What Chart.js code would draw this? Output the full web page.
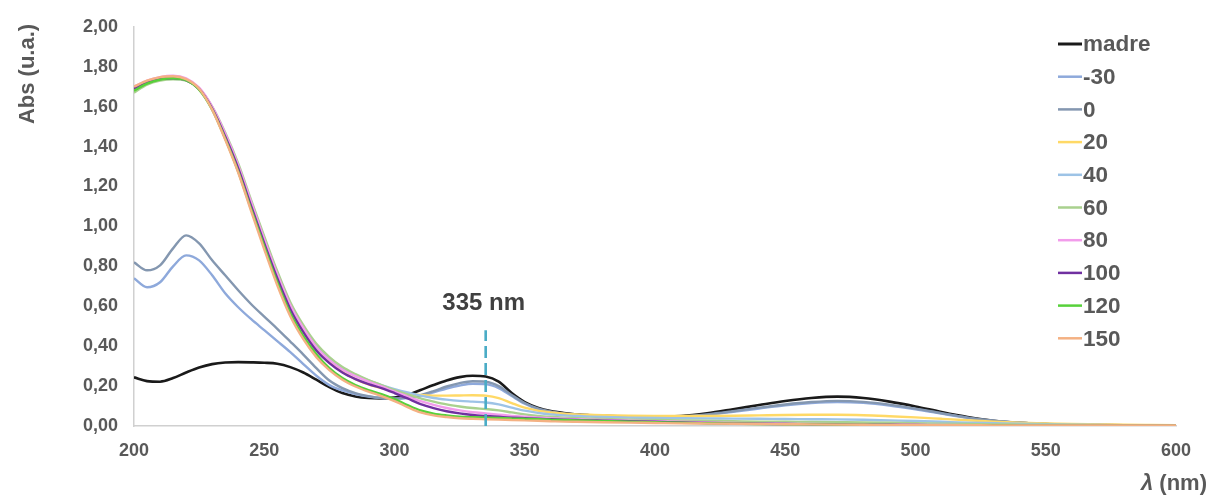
<!DOCTYPE html>
<html>
<head>
<meta charset="utf-8">
<script src="https://cdn.jsdelivr.net/npm/chart.js@4.4.0/dist/chart.umd.min.js"></script>
<style>
  html, body { margin: 0; padding: 0; background: #ffffff; }
  #wrap { width: 1215px; height: 498px; }
</style>
</head>
<body>
<div id="wrap"><canvas id="c" width="1215" height="498"></canvas></div>
<script>
// Wavelength grid (nm)
const wavelengths = [
  200,205,210,215,220,225,230,235,240,245,
  250,255,260,265,270,275,280,285,290,295,
  300,305,310,315,320,325,330,335,340,345,
  350,355,360,365,370,375,380,390,400,410,
  420,430,440,450,460,470,480,490,500,510,
  520,530,540,550,560,570,580,590,600
];

// Absorbance spectra (u.a.)
const absMadre = [
  .244,.225,.222,.24,.268,.293,.31,.318,.32,.319,
  .317,.312,.295,.268,.232,.195,.165,.148,.14,.138,
  .142,.155,.18,.205,.228,.245,.252,.248,.222,.165,
  .12,.092,.075,.065,.058,.054,.051,.047,.046,.05,
  .064,.084,.105,.125,.14,.147,.14,.122,.098,.07,
  .045,.026,.016,.01,.007,.005,.003,.002,.001
];
const absM30 = [
  .74,.695,.72,.8,.855,.83,.755,.665,.595,.535,
  .48,.425,.37,.31,.252,.205,.178,.16,.148,.14,
  .137,.14,.15,.168,.188,.203,.212,.21,.19,.15,
  .112,.085,.07,.06,.055,.051,.049,.045,.044,.047,
  .056,.071,.088,.104,.115,.12,.116,.103,.084,.062,
  .041,.025,.015,.01,.007,.005,.003,.002,.001
];
const abs0 = [
  .82,.78,.805,.89,.955,.915,.83,.755,.68,.61,
  .548,.487,.423,.358,.29,.228,.19,.165,.15,.14,
  .137,.142,.155,.175,.198,.215,.224,.222,.2,.155,
  .115,.088,.072,.062,.056,.052,.05,.046,.045,.048,
  .058,.074,.092,.108,.12,.126,.121,.107,.087,.064,
  .042,.026,.016,.01,.007,.005,.003,.002,.001
];
const abs20 = [
  1.69,1.725,1.742,1.747,1.737,1.69,1.59,1.45,1.29,1.1,
  .92,.745,.59,.475,.385,.32,.27,.235,.208,.19,
  .175,.162,.155,.152,.152,.153,.154,.152,.14,.115,
  .092,.077,.068,.062,.058,.056,.054,.051,.05,.05,
  .05,.051,.053,.055,.056,.056,.054,.049,.043,.036,
  .029,.022,.017,.013,.01,.008,.006,.005,.004
];
const abs40 = [
  1.68,1.717,1.735,1.74,1.732,1.69,1.595,1.46,1.305,1.12,
  .94,.765,.61,.495,.405,.34,.29,.255,.228,.205,
  .185,.168,.152,.14,.132,.126,.122,.118,.108,.092,
  .077,.066,.058,.053,.05,.047,.045,.042,.04,.039,
  .038,.037,.036,.035,.034,.033,.031,.028,.025,.021,
  .017,.014,.011,.009,.007,.005,.004,.003,.002
];
const abs60 = [
  1.67,1.71,1.73,1.737,1.73,1.69,1.6,1.47,1.315,1.13,
  .95,.775,.62,.505,.412,.345,.295,.26,.23,.205,
  .18,.158,.138,.122,.108,.098,.09,.085,.078,.068,
  .058,.051,.046,.042,.039,.037,.035,.032,.03,.028,
  .026,.024,.022,.021,.02,.019,.018,.016,.014,.012,
  .01,.008,.007,.006,.005,.004,.003,.002,.002
];
const abs80 = [
  1.7,1.73,1.748,1.755,1.742,1.695,1.6,1.465,1.305,1.12,
  .935,.76,.605,.49,.395,.33,.282,.25,.222,.198,
  .172,.148,.125,.106,.09,.078,.069,.063,.057,.051,
  .046,.042,.039,.036,.034,.032,.03,.027,.024,.021,
  .018,.015,.013,.011,.01,.009,.008,.007,.006,.005,
  .004,.003,.003,.002,.002,.001,.001,.001,.001
];
const abs100 = [
  1.69,1.72,1.738,1.742,1.733,1.688,1.59,1.45,1.29,1.1,
  .915,.74,.585,.47,.378,.315,.268,.235,.21,.19,
  .165,.138,.11,.09,.074,.063,.055,.05,.046,.042,
  .039,.036,.034,.032,.03,.028,.027,.024,.021,.018,
  .015,.013,.011,.01,.009,.008,.007,.006,.005,.004,
  .003,.003,.002,.002,.001,.001,.001,.001,.001
];
const abs120 = [
  1.68,1.715,1.735,1.742,1.733,1.685,1.585,1.44,1.275,1.085,
  .9,.72,.565,.45,.36,.29,.24,.205,.18,.16,
  .135,.105,.078,.062,.053,.047,.044,.042,.04,.038,
  .036,.034,.032,.03,.028,.026,.025,.022,.019,.016,
  .014,.012,.01,.009,.008,.007,.006,.005,.004,.004,
  .003,.003,.002,.002,.001,.001,.001,.001,.001
];
const abs150 = [
  1.7,1.73,1.748,1.752,1.738,1.69,1.585,1.435,1.27,1.075,
  .885,.705,.55,.435,.345,.28,.232,.198,.172,.15,
  .125,.095,.068,.053,.045,.039,.036,.034,.032,.03,
  .028,.026,.024,.022,.021,.02,.019,.017,.015,.013,
  .012,.011,.01,.009,.008,.007,.006,.005,.005,.004,
  .004,.003,.003,.003,.003,.003,.003,.003,.003
];

const seriesLabels = ['madre', '-30', '0', '20', '40', '60', '80', '100', '120', '150'];
const seriesValues = [absMadre, absM30, abs0, abs20, abs40, abs60, abs80, abs100, abs120, abs150];
const seriesColors = ['#1a1a1a', '#8EA9DB', '#8497B0', '#FFD966', '#9DC3E6',
                      '#A9D18E', '#F29CEB', '#7030A0', '#57D13A', '#F4B183'];

const xTickLabels = ['200', '250', '300', '350', '400', '450', '500', '550', '600'];
const yTickLabels = ['0,00', '0,20', '0,40', '0,60', '0,80', '1,00', '1,20', '1,40', '1,60', '1,80', '2,00'];

// Marker for the 335 nm band
const markerNm = 335;
const markerTop = 0.48;
const markerLabel = '335 nm';

const FONT = '"Liberation Sans", Arial, Helvetica, sans-serif';
const TEXT_GREY = '#595959';

const datasets = seriesLabels.map((label, i) => ({
  label,
  data: wavelengths.map((w, k) => ({ x: w, y: seriesValues[i][k] })),
  borderColor: seriesColors[i],
  backgroundColor: seriesColors[i],
  borderWidth: i === 0 ? 2.6 : 2.4,
  pointRadius: 0,
  fill: false,
  cubicInterpolationMode: 'monotone',
  order: seriesLabels.length - i
}));

datasets.push({
  label: markerLabel,
  data: [{ x: markerNm, y: 0 }, { x: markerNm, y: markerTop }],
  borderColor: '#4BACC6',
  borderWidth: 2.6,
  borderDash: [12, 5],
  pointRadius: 0,
  fill: false,
  order: -1
});

// Axis titles, legend and the band label
const decor = {
  id: 'decor',
  afterDraw(chart) {
    const ctx = chart.ctx;
    const xs = chart.scales.x, ys = chart.scales.y;
    ctx.save();

    // Y axis title
    ctx.translate(28, 74);
    ctx.rotate(-Math.PI / 2);
    ctx.font = 'bold 22px ' + FONT;
    ctx.fillStyle = TEXT_GREY;
    ctx.textAlign = 'center';
    ctx.textBaseline = 'middle';
    ctx.fillText('Abs (u.a.)', 0, 0);
    ctx.setTransform(1, 0, 0, 1, 0, 0);

    // X axis title: italic lambda followed by unit
    ctx.textBaseline = 'middle';
    ctx.textAlign = 'left';
    ctx.font = 'italic bold 22px ' + FONT;
    const lam = '\u03BB ';
    const lamW = ctx.measureText(lam).width;
    ctx.font = 'bold 22px ' + FONT;
    const unit = '(nm)';
    const unitW = ctx.measureText(unit).width;
    const xEnd = 1207;
    const xStart = xEnd - lamW - unitW;
    ctx.font = 'italic bold 22px ' + FONT;
    ctx.fillText(lam, xStart, 484);
    ctx.font = 'bold 22px ' + FONT;
    ctx.fillText(unit, xStart + lamW, 484);

    // Band label above the dashed marker
    ctx.font = 'bold 24px ' + FONT;
    ctx.fillStyle = '#404040';
    ctx.textAlign = 'center';
    ctx.textBaseline = 'middle';
    ctx.fillText(markerLabel, xs.getPixelForValue(markerNm) - 2, ys.getPixelForValue(markerTop) - 27);

    // Legend
    ctx.font = 'bold 22.5px ' + FONT;
    ctx.fillStyle = TEXT_GREY;
    ctx.textAlign = 'left';
    seriesLabels.forEach((label, i) => {
      const y = 44 + i * 32.7;
      ctx.strokeStyle = seriesColors[i];
      ctx.lineWidth = i === 0 ? 3 : 2.5;
      ctx.setLineDash([]);
      ctx.beginPath();
      ctx.moveTo(1058, y);
      ctx.lineTo(1082, y);
      ctx.stroke();
      ctx.fillText(label, 1083, y + 1);
    });
    ctx.restore();
  }
};

new Chart(document.getElementById('c'), {
  type: 'line',
  data: { datasets },
  plugins: [decor],
  options: {
    responsive: false,
    animation: false,
    devicePixelRatio: 1,
    layout: { padding: { left: 0, right: 39, top: 22, bottom: 0 } },
    plugins: { legend: { display: false }, tooltip: { enabled: false } },
    scales: {
      x: {
        type: 'linear',
        min: 200, max: 600,
        grid: { display: false, drawTicks: false },
        border: { display: true, color: '#D0D0D0', width: 1.5 },
        ticks: {
          stepSize: 50,
          padding: 14,
          color: TEXT_GREY,
          font: { family: FONT, size: 18, weight: 'bold' },
          maxRotation: 0,
          callback: (v, i) => xTickLabels[i]
        },
        afterFit: s => { s.height = 72; }
      },
      y: {
        type: 'linear',
        min: 0, max: 2,
        grid: { display: false, drawTicks: false },
        border: { display: true, color: '#D0D0D0', width: 1.5 },
        ticks: {
          stepSize: 0.2,
          padding: 16,
          color: TEXT_GREY,
          font: { family: FONT, size: 18, weight: 'bold' },
          callback: (v, i) => yTickLabels[i]
        },
        afterFit: s => { s.width = 134; }
      }
    }
  }
});
</script>
</body>
</html>
